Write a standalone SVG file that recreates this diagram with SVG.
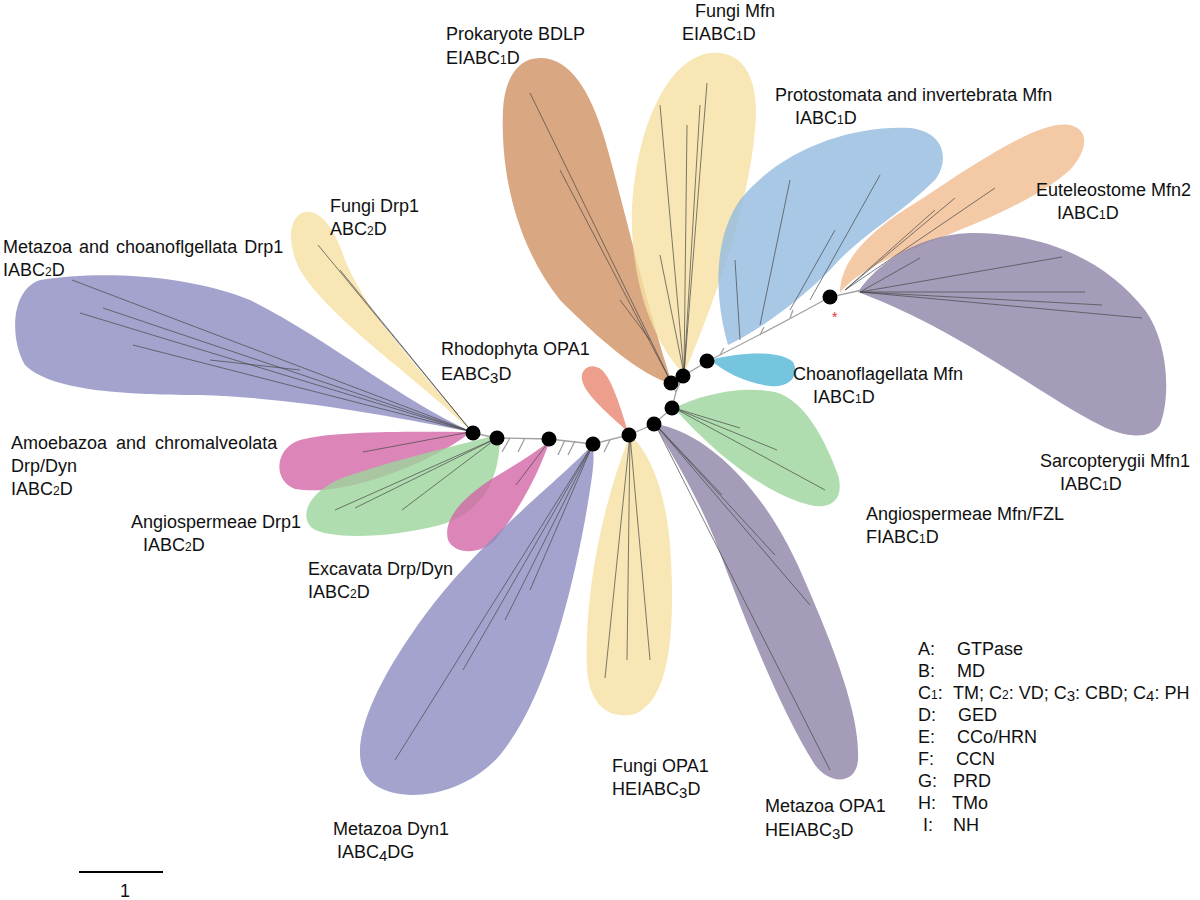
<svg xmlns="http://www.w3.org/2000/svg" width="1200" height="900" viewBox="0 0 1200 900">
<style>
text{font-family:"Liberation Sans",Arial,sans-serif;font-size:18px;fill:#111}
.s{font-size:12px}
.s2{font-size:15px}
.blob{fill-opacity:0.8;stroke:none}
.br{stroke:#4a4a4a;stroke-width:0.9;fill:none;stroke-opacity:0.8}
.bb{stroke:#a0a0a0;stroke-width:1.3;fill:none}
.dot{fill:#000}
.purple{fill:#8c8cc0}.gp{fill:#8d83a7}.yel{fill:#f6e0a1}.brown{fill:#cf9263}.blue{fill:#92bae0}
.orange{fill:#f1bb90}.green{fill:#9cd49c}.pink{fill:#d266a6}.cyan{fill:#51b6d4}.red{fill:#ea866f}
</style>
<rect width="1200" height="900" fill="#fff"/>

<g id="metazoa-drp1">
<path class="blob purple" d="M472,432 C400,400 330,340 250,300 C190,275 100,270 40,280 C10,290 10,340 25,365 C50,390 120,395 200,395 C300,398 400,418 472,432 Z"/>
<path class="br" d="M472,432 L72,280 M472,432 L103,308 M472,432 L80,313 M472,432 L133,345 M300,370 L210,360"/>
</g>
<g id="fungi-drp1">
<path class="blob yel" d="M472,432 C420,380 330,320 300,270 C285,240 290,215 305,212 C322,210 335,230 345,260 C370,320 430,380 472,432 Z"/>
<path class="br" d="M472,432 L318,245 M472,432 L340,270"/>
</g>
<g id="amoebazoa">
<path class="blob pink" d="M470,432 C420,432 340,430 300,440 C275,448 272,480 295,489 C330,495 380,480 420,462 C445,450 462,440 470,432 Z"/>
<path class="br" d="M470,432 L363,452"/>
</g>
<g id="angio-drp1">
<path class="blob green" d="M500,434 C500,470 490,510 440,525 C390,538 330,540 312,528 C298,515 310,490 345,477 C400,458 460,445 500,434 Z"/>
<path class="br" d="M497,438 L335,510 M497,438 L355,508 M497,438 L402,510"/>
</g>
<g id="excavata">
<path class="blob pink" d="M550,440 C540,470 520,510 495,540 C480,555 455,555 448,540 C443,520 460,500 490,480 C515,465 540,450 550,440 Z"/>
<path class="br" d="M550,440 L516,485"/>
</g>
<g id="metazoa-dyn1">
<path class="blob purple" d="M592,445 C560,480 480,540 425,615 C370,690 340,760 375,785 C405,805 465,795 500,755 C545,700 570,600 585,520 C592,480 596,455 592,445 Z"/>
<path class="br" d="M593,444 L395,760 M593,444 L463,670 M593,444 L505,620 M593,444 L530,590"/>
</g>
<g id="fungi-opa1">
<path class="blob yel" d="M630,435 C648,450 668,490 671,560 C675,640 668,700 635,714 C608,720 590,705 587,670 C584,600 600,510 630,435 Z"/>
<path class="br" d="M630,435 L605,678 M630,435 L627,660 M630,435 L650,660"/>
</g>
<g id="metazoa-opa1">
<path class="blob gp" d="M655,424 C700,430 760,480 800,570 C840,660 860,720 858,760 C856,785 830,785 815,765 C780,710 745,620 715,540 C690,480 665,445 655,424 Z"/>
<path class="br" d="M655,424 L830,770 M655,424 L810,605 M655,424 L775,555 M655,424 L722,495"/>
</g>
<g id="angio-mfn">
<path class="blob green" d="M674,408 C700,395 740,385 775,392 C805,400 825,440 838,475 C845,500 830,510 810,505 C770,495 720,460 674,408 Z"/>
<path class="br" d="M674,408 L825,490 M674,408 L777,450 M674,408 L740,428"/>
</g>
<g id="choano-mfn">
<path class="blob cyan" d="M710,360 C740,352 780,350 793,362 C800,375 790,388 770,386 C745,383 725,372 710,360 Z"/>
</g>
<g id="rhodophyta">
<path class="blob red" d="M628,432 C610,415 585,395 582,380 C580,368 592,362 602,370 C612,380 620,405 628,432 Z"/>
</g>
<g id="prokaryote">
<path class="blob brown" d="M672,384 C640,375 600,340 560,300 C520,250 500,180 503,110 C505,75 520,58 540,58 C570,58 590,90 605,140 C625,210 645,300 672,384 Z"/>
<path class="br" d="M672,384 L530,93 M672,384 L560,170 M650,340 L620,300"/>
</g>
<g id="fungi-mfn">
<path class="blob yel" d="M684,374 C660,350 635,300 632,230 C630,150 660,60 710,53 C745,50 760,80 755,130 C748,210 715,300 684,374 Z"/>
<path class="br" d="M684,374 L660,105 M684,374 L707,83 M684,374 L700,105 M684,374 L687,125 M684,374 L660,255"/>
</g>
<g id="protostomata">
<path class="blob blue" d="M728,345 C715,300 712,240 740,200 C780,150 850,125 910,128 C945,132 950,160 935,180 C900,215 860,235 830,270 C800,300 760,330 728,345 Z"/>
<path class="br" d="M740,340 L735,260 M760,325 L790,180 M790,310 L835,230 M810,300 L880,175"/>
</g>
<g id="euteleostome">
<path class="blob orange" d="M840,293 C840,260 870,230 920,200 C980,160 1040,120 1070,125 C1090,130 1088,150 1070,170 C1030,205 960,230 910,250 C870,265 850,280 840,293 Z"/>
<path class="br" d="M845,290 L995,188 M845,290 L955,198 M845,290 L935,210"/>
</g>
<g id="sarcopterygii">
<path class="blob gp" d="M858,292 C880,260 920,235 970,233 C1050,232 1110,265 1145,310 C1170,345 1170,400 1160,425 C1150,440 1125,438 1100,425 C1040,395 960,330 858,292 Z"/>
<path class="br" d="M860,292 L1142,318 M860,292 L1062,257 M860,292 L1085,292 M860,292 L1102,305 M860,292 L920,258"/>
</g>

<g id="connectors">
<path class="bb" d="M473,433 L497,438 L549,439 L593,444 L629,435 L654,424 L672,408 L676,392 L683,376 L708,361 Q770,330 830,297 L862,290 M676,392 L671,383"/>
<path class="bb" d="M510,438 L502,452 M525,438 L518,452 M565,440 L558,455 M575,441 L568,455 M610,440 L604,452 M720,355 L724,348 M760,335 L764,327 M790,318 L793,310"/>
</g>
<g id="nodes">
<circle class="dot" cx="473" cy="433" r="7.5"/>
<circle class="dot" cx="497" cy="438" r="7.5"/>
<circle class="dot" cx="549" cy="439" r="7.5"/>
<circle class="dot" cx="593" cy="444" r="7.5"/>
<circle class="dot" cx="629" cy="435" r="7.5"/>
<circle class="dot" cx="654" cy="424" r="7.5"/>
<circle class="dot" cx="672" cy="408" r="7.5"/>
<circle class="dot" cx="671" cy="383" r="7.5"/>
<circle class="dot" cx="683" cy="376" r="7.5"/>
<circle class="dot" cx="707" cy="361" r="7.5"/>
<circle class="dot" cx="830" cy="297" r="7.5"/>
<text x="832" y="322" style="fill:#e03040;font-size:14px">*</text>
</g>

<g id="labels">
<text x="446" y="40">Prokaryote BDLP</text>
<text x="446" y="64">EIABC<tspan class="s">1</tspan>D</text>
<text x="695" y="17">Fungi Mfn</text>
<text x="682" y="40">EIABC<tspan class="s">1</tspan>D</text>
<text x="775" y="101">Protostomata and invertebrata Mfn</text>
<text x="795" y="124">IABC<tspan class="s">1</tspan>D</text>
<text x="1036" y="196">Euteleostome Mfn2</text>
<text x="1057" y="219">IABC<tspan class="s">1</tspan>D</text>
<text x="330" y="212">Fungi Drp1</text>
<text x="330" y="235">ABC<tspan class="s">2</tspan>D</text>
<text x="3" y="253" word-spacing="2">Metazoa and choanoflgellata Drp1</text>
<text x="3" y="276">IABC<tspan class="s">2</tspan>D</text>
<text x="441" y="355">Rhodophyta OPA1</text>
<text x="441" y="380">EABC<tspan class="s2" dy="3">3</tspan><tspan dy="-3">D</tspan></text>
<text x="793" y="380">Choanoflagellata Mfn</text>
<text x="813" y="403">IABC<tspan class="s">1</tspan>D</text>
<text x="11" y="449" word-spacing="4">Amoebazoa and chromalveolata</text>
<text x="11" y="472">Drp/Dyn</text>
<text x="11" y="495">IABC<tspan class="s">2</tspan>D</text>
<text x="131" y="528">Angiospermeae Drp1</text>
<text x="143" y="551">IABC<tspan class="s">2</tspan>D</text>
<text x="308" y="575">Excavata Drp/Dyn</text>
<text x="308" y="598">IABC<tspan class="s">2</tspan>D</text>
<text x="1040" y="467">Sarcopterygii Mfn1</text>
<text x="1060" y="490">IABC<tspan class="s">1</tspan>D</text>
<text x="866" y="520">Angiospermeae Mfn/FZL</text>
<text x="866" y="543">FIABC<tspan class="s">1</tspan>D</text>
<text x="612" y="772">Fungi OPA1</text>
<text x="612" y="795">HEIABC<tspan class="s2" dy="3">3</tspan><tspan dy="-3">D</tspan></text>
<text x="333" y="835">Metazoa Dyn1</text>
<text x="337" y="858">IABC<tspan class="s2" dy="3">4</tspan><tspan dy="-3">DG</tspan></text>
<text x="765" y="812">Metazoa OPA1</text>
<text x="765" y="836">HEIABC<tspan class="s2" dy="3">3</tspan><tspan dy="-3">D</tspan></text>
</g>

<g id="legend">
<text x="918" y="655">A:</text><text x="957" y="655">GTPase</text>
<text x="918" y="677">B:</text><text x="957" y="677">MD</text>
<text x="918" y="699">C<tspan class="s">1</tspan>:<tspan x="953">TM; C</tspan><tspan class="s">2</tspan>: VD; C<tspan class="s2" dy="2">3</tspan><tspan dy="-2">: CBD; C</tspan><tspan class="s2" dy="2">4</tspan><tspan dy="-2">: PH</tspan></text>
<text x="918" y="721">D:</text><text x="958" y="721">GED</text>
<text x="918" y="743">E:</text><text x="957" y="743">CCo/HRN</text>
<text x="918" y="765">F:</text><text x="956" y="765">CCN</text>
<text x="918" y="787">G:</text><text x="953" y="787">PRD</text>
<text x="918" y="809">H:</text><text x="952" y="809">TMo</text>
<text x="923" y="831">I:</text><text x="953" y="831">NH</text>
</g>

<g id="scale">
<line x1="79" y1="872" x2="163" y2="872" stroke="#000" stroke-width="2"/>
<text x="120" y="897">1</text>
</g>
</svg>
